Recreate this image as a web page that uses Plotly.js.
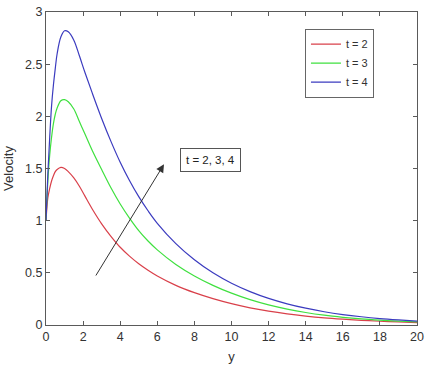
<!DOCTYPE html>
<html>
<head>
<meta charset="utf-8">
<script src="https://cdn.plot.ly/plotly-3.0.1.min.js"></script>
<style>
  html, body { margin: 0; padding: 0; background: #fff; }
  #chart { width: 434px; height: 372px; }
</style>
</head>
<body>
<div id="chart"></div>
<script>
// values
const yPos = [0, 0.1, 0.2, 0.3, 0.4, 0.5, 0.6, 0.8, 1.0, 1.2, 1.5, 1.8, 2.1, 2.5, 3, 3.5, 4, 4.5, 5, 5.5, 6, 7, 8, 9, 10, 11, 12, 13, 14, 15, 16, 17, 18, 19, 20];
const velT2 = [1.0, 1.22, 1.31, 1.38, 1.43, 1.47, 1.49, 1.51, 1.50, 1.47, 1.41, 1.33, 1.235, 1.11, 0.97, 0.85, 0.745, 0.66, 0.587, 0.525, 0.47, 0.38, 0.31, 0.253, 0.205, 0.165, 0.133, 0.107, 0.086, 0.069, 0.056, 0.045, 0.036, 0.029, 0.023];
const velT3 = [1.0, 1.38, 1.63, 1.80, 1.93, 2.02, 2.08, 2.15, 2.16, 2.14, 2.07, 1.95, 1.83, 1.67, 1.49, 1.315, 1.16, 1.025, 0.905, 0.805, 0.72, 0.58, 0.47, 0.38, 0.305, 0.243, 0.193, 0.153, 0.12, 0.094, 0.074, 0.058, 0.046, 0.037, 0.03];
const velT4 = [1.0, 1.45, 1.80, 2.10, 2.30, 2.46, 2.60, 2.76, 2.82, 2.81, 2.73, 2.58, 2.42, 2.22, 1.98, 1.76, 1.56, 1.385, 1.23, 1.095, 0.975, 0.78, 0.625, 0.50, 0.40, 0.32, 0.255, 0.203, 0.161, 0.127, 0.10, 0.079, 0.062, 0.049, 0.038];
const seriesNames = ['t = 2', 't = 3', 't = 4'];
const xTicks = [0, 2, 4, 6, 8, 10, 12, 14, 16, 18, 20];
const yTicks = [0, 0.5, 1, 1.5, 2, 2.5, 3];

const colors = ['#d9404a', '#3fe03f', '#3b3bbf'];
const allVel = [velT2, velT3, velT4];

const traces = allVel.map((v, i) => ({
  x: yPos,
  y: v,
  name: seriesNames[i],
  type: 'scatter',
  mode: 'lines',
  line: { color: colors[i], width: 1.2, shape: 'spline', smoothing: 1 }
}));

const font = 'Liberation Sans, Arial, sans-serif';

const axisCommon = {
  showline: true,
  mirror: 'ticks',
  linecolor: '#5a5a5a',
  linewidth: 1,
  ticks: 'inside',
  ticklen: 4,
  tickcolor: '#5a5a5a',
  showgrid: false,
  zeroline: false,
  tickfont: { family: font, size: 12.5, color: '#333' }
};

const layout = {
  width: 434,
  height: 372,
  margin: { l: 46, r: 17, t: 12, b: 47 },
  paper_bgcolor: '#fff',
  plot_bgcolor: '#fff',
  showlegend: true,
  legend: {
    x: 0.698, y: 0.947, xanchor: 'left', yanchor: 'top',
    bordercolor: '#666', borderwidth: 1, bgcolor: '#fff',
    font: { family: font, size: 11, color: '#333' },
    tracegroupgap: 0
  },
  xaxis: Object.assign({}, axisCommon, {
    range: [0, 20],
    tickvals: xTicks,
    title: { text: 'y', font: { family: font, size: 13, color: '#333' }, standoff: 8 }
  }),
  yaxis: Object.assign({}, axisCommon, {
    range: [0, 3],
    tickvals: yTicks,
    title: { text: 'Velocity', font: { family: font, size: 13, color: '#333' }, standoff: 8 }
  }),
  annotations: [
    {
      x: 6.36, y: 1.54, xref: 'x', yref: 'y',
      ax: 2.64, ay: 0.46, axref: 'x', ayref: 'y',
      text: '', showarrow: true,
      arrowhead: 2, arrowsize: 1.6, arrowwidth: 1, arrowcolor: '#333'
    },
    {
      x: 8.88, y: 1.58, xref: 'x', yref: 'y',
      text: 't = 2, 3, 4', showarrow: false,
      font: { family: font, size: 11.5, color: '#222' },
      bordercolor: '#555', borderwidth: 1, borderpad: 5, bgcolor: '#fff'
    }
  ]
};

Plotly.newPlot('chart', traces, layout, { displayModeBar: false, staticPlot: true });
</script>
</body>
</html>
